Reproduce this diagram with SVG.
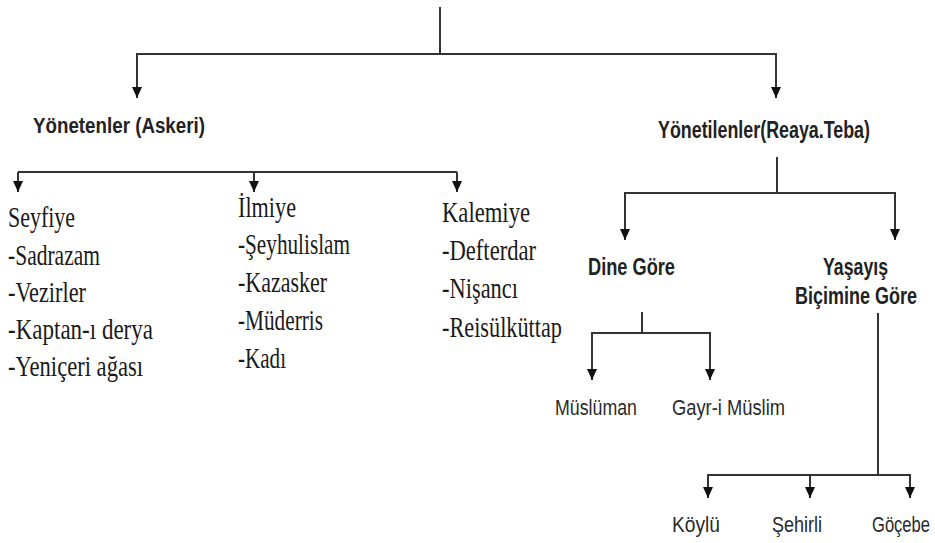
<svg xmlns="http://www.w3.org/2000/svg" width="935" height="543" viewBox="0 0 935 543">
<style>
.ln{fill:none;stroke:#333;stroke-width:2}
.sr{font-family:"Liberation Serif","Times New Roman",serif;font-size:30px;fill:#1a1a1a}
.hb{font-family:"Liberation Sans",Arial,sans-serif;font-weight:bold;fill:#222}
.sn{font-family:"Liberation Sans",Arial,sans-serif;fill:#2a2a2a;font-size:22px}
</style>
<defs>
<marker id="ah" markerWidth="12" markerHeight="10" refX="11" refY="5" orient="auto-start-reverse" markerUnits="userSpaceOnUse" viewBox="0 0 12 10">
<path d="M0,0 L11,5 L0,10 Z" fill="#111"/>
</marker>
</defs>
<rect width="935" height="543" fill="#fff"/>
<g id="connectors">
<path class="ln" d="M440,7 V54"/>
<path class="ln" d="M137,98 V54 H776 V98" marker-start="url(#ah)" marker-end="url(#ah)"/>
<path class="ln" d="M18,172 H457"/>
<path class="ln" d="M18,172 V192" marker-end="url(#ah)"/>
<path class="ln" d="M254,172 V192" marker-end="url(#ah)"/>
<path class="ln" d="M457,172 V192" marker-end="url(#ah)"/>
<path class="ln" d="M777,157 V193"/>
<path class="ln" d="M625,240 V193 H895 V240" marker-start="url(#ah)" marker-end="url(#ah)"/>
<path class="ln" d="M642,312 V333"/>
<path class="ln" d="M592,380 V333 H710 V380" marker-start="url(#ah)" marker-end="url(#ah)"/>
<path class="ln" d="M878,313 V475"/>
<path class="ln" d="M708,498 V475 H910 V498" marker-start="url(#ah)" marker-end="url(#ah)"/>
<path class="ln" d="M810,475 V498" marker-end="url(#ah)"/>
</g>
<g id="yonetenler">
<text class="hb" x="33" y="133" font-size="22" textLength="172" lengthAdjust="spacingAndGlyphs">Yönetenler (Askeri)</text>
</g>
<g id="yonetilenler">
<text class="hb" x="658" y="138" font-size="24" textLength="212" lengthAdjust="spacingAndGlyphs">Yönetilenler(Reaya.Teba)</text>
</g>
<g id="seyfiye">
<text class="sr" x="8" y="227" textLength="67" lengthAdjust="spacingAndGlyphs">Seyfiye</text>
<text class="sr" x="8" y="265" textLength="92" lengthAdjust="spacingAndGlyphs">-Sadrazam</text>
<text class="sr" x="8" y="302" textLength="78" lengthAdjust="spacingAndGlyphs">-Vezirler</text>
<text class="sr" x="8" y="339" textLength="145" lengthAdjust="spacingAndGlyphs">-Kaptan-ı derya</text>
<text class="sr" x="8" y="376" textLength="135" lengthAdjust="spacingAndGlyphs">-Yeniçeri ağası</text>
</g>
<g id="ilmiye">
<text class="sr" x="238" y="217" textLength="58" lengthAdjust="spacingAndGlyphs">İlmiye</text>
<text class="sr" x="238" y="254" textLength="112" lengthAdjust="spacingAndGlyphs">-Şeyhulislam</text>
<text class="sr" x="238" y="292" textLength="89" lengthAdjust="spacingAndGlyphs">-Kazasker</text>
<text class="sr" x="238" y="330" textLength="85" lengthAdjust="spacingAndGlyphs">-Müderris</text>
<text class="sr" x="238" y="368" textLength="48" lengthAdjust="spacingAndGlyphs">-Kadı</text>
</g>
<g id="kalemiye">
<text class="sr" x="442" y="222" textLength="88" lengthAdjust="spacingAndGlyphs">Kalemiye</text>
<text class="sr" x="442" y="260" textLength="94" lengthAdjust="spacingAndGlyphs">-Defterdar</text>
<text class="sr" x="442" y="298" textLength="76" lengthAdjust="spacingAndGlyphs">-Nişancı</text>
<text class="sr" x="442" y="337" textLength="120" lengthAdjust="spacingAndGlyphs">-Reisülküttap</text>
</g>
<g id="dine-gore">
<text class="hb" x="588" y="275" font-size="23" textLength="87" lengthAdjust="spacingAndGlyphs">Dine Göre</text>
</g>
<g id="yasayis">
<text class="hb" x="823" y="275" font-size="23" textLength="65" lengthAdjust="spacingAndGlyphs">Yaşayış</text>
<text class="hb" x="795" y="304" font-size="23" textLength="122" lengthAdjust="spacingAndGlyphs">Biçimine Göre</text>
</g>
<g id="musluman">
<text class="sn" x="555" y="415" textLength="82" lengthAdjust="spacingAndGlyphs">Müslüman</text>
</g>
<g id="gayri-muslim">
<text class="sn" x="672" y="415" textLength="113" lengthAdjust="spacingAndGlyphs">Gayr-i Müslim</text>
</g>
<g id="koylu">
<text class="sn" x="672" y="532" textLength="48" lengthAdjust="spacingAndGlyphs">Köylü</text>
</g>
<g id="sehirli">
<text class="sn" x="772" y="532" textLength="50" lengthAdjust="spacingAndGlyphs">Şehirli</text>
</g>
<g id="gocebe">
<text class="sn" x="872" y="532" textLength="58" lengthAdjust="spacingAndGlyphs">Göçebe</text>
</g>
</svg>
